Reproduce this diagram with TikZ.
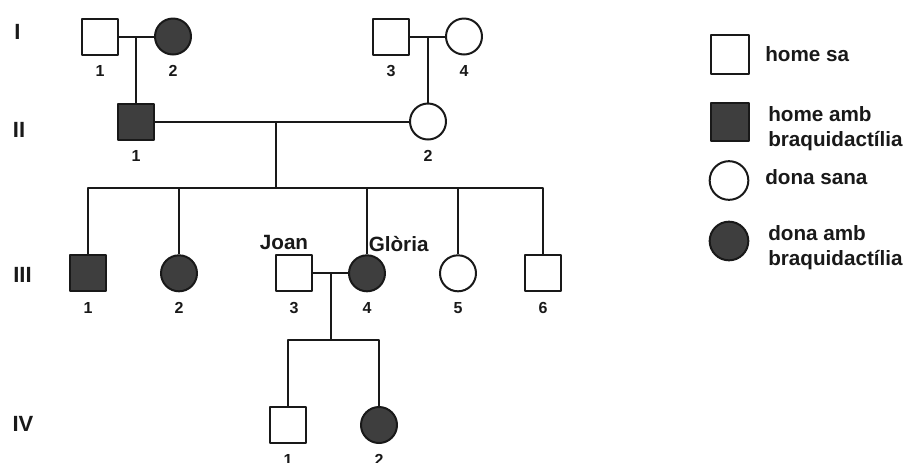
\documentclass[tikz,border=0pt]{standalone}
\usepackage{fontspec}
\setmainfont{Liberation Sans}
\definecolor{affgray}{RGB}{62,62,62}
\definecolor{inkgray}{RGB}{25,25,25}

\def\pedsize{27pt}
\def\keysize{29pt}

\tikzset{
  person/.style={draw=inkgray, line width=1.5pt, inner sep=0pt, minimum size=\pedsize},
  male/.style={person, rectangle},
  female/.style={person, circle},
  aff/.style={fill=affgray},
  every label/.style={inner sep=0pt, text=inkgray, font=\fontsize{12}{12}\selectfont\bfseries},
  genlabel/.style={inner sep=0pt, text=inkgray, font=\fontsize{16.5}{16.5}\selectfont\bfseries},
  pername/.style={inner sep=0pt, text=inkgray, font=\fontsize{15.5}{15.5}\selectfont\bfseries},
  keytext/.style={inner sep=0pt, anchor=west, align=left, text=inkgray, font=\fontsize{15.5}{18.75}\selectfont\bfseries},
}

\begin{document}
\begin{tikzpicture}[x=0.75pt, y=-0.75pt, line join=bevel, label distance=7.5pt]
\useasboundingbox (0,0) rectangle (908,462);

% generations
\node[genlabel](gI)   at (17.5,32)  {I};
\node[genlabel](gII)  at (19,129.5) {II};
\node[genlabel](gIII) at (22.5,275) {III};
\node[genlabel](gIV)  at (23,424)   {IV};

% I
\node[male, label=below:1](I1)          at (100,36.5) {};
\node[female, aff, label=below:2](I2)   at (173,36.5) {};
\node[male, label=below:3](I3)          at (391,36.5) {};
\node[female, label=below:4](I4)        at (464,36.5) {};

% II
\node[male, aff, label=below:1](II1)    at (136,121.5) {};
\node[female, label=below:2](II2)       at (428,121.5) {};

% III
\node[male, aff, label=below:1](III1)   at (88,273.3) {};
\node[female, aff, label=below:2](III2) at (179,273.3) {};
\node[male, label=below:3](III3)        at (294,273.3) {};
\node[female, aff, label=below:4](III4) at (367,273.3) {};
\node[female, label=below:5](III5)      at (458,273.3) {};
\node[male, label=below:6](III6)        at (543,273.3) {};
\node[pername, anchor=base](joan)       at (284,249.5) {Joan};
\node[pername, anchor=base west](gloria) at (368.5,251.5) {Glòria};

% IV
\node[male, label=below:1](IV1)         at (288,425) {};
\node[female, aff, label=below:2](IV2)  at (379,425) {};

% junctions
\coordinate(mI12) at (136,36.5);
\coordinate(mI34) at (428,36.5);
\coordinate(mII)  at (276,121.5);
\coordinate(sibIII) at (276,188);
\coordinate(mIII) at (331,273.3);
\coordinate(sibIV) at (331,340);

\begin{scope}[draw=inkgray, line width=1.5pt]
\draw (I1) -- (I2);
\draw (I3) -- (I4);
\draw (mI12) -- (II1);
\draw (mI34) -- (II2);
\draw (II1) -- (II2);
\draw (mII) -- (sibIII);
\draw (III1) |- (sibIII) -| (III6);
\foreach \k in {2,4,5}
  \draw (III\k) -- (III\k |- sibIII);
\draw (III3) -- (III4);
\draw (mIII) -- (sibIV);
\draw (IV1) |- (sibIV) -| (IV2);
\end{scope}

% key
\node[male, minimum size=\keysize](kmale)          at (730,54.5) {};
\node[male, aff, minimum size=\keysize](kmaleaff)  at (730,122) {};
\node[female, minimum size=\keysize](kfem)         at (729,180.5) {};
\node[female, aff, minimum size=\keysize](kfemaff) at (729,241) {};
\node[keytext](tmale)    at (765,54.2) {home sa};
\node[keytext](tmaleaff) at (768,129) {home amb\\braquidactília};
\node[keytext](tfem)     at (765,177.5) {dona sana};
\node[keytext](tfemaff)  at (768,248) {dona amb\\braquidactília};
\end{tikzpicture}
\end{document}
